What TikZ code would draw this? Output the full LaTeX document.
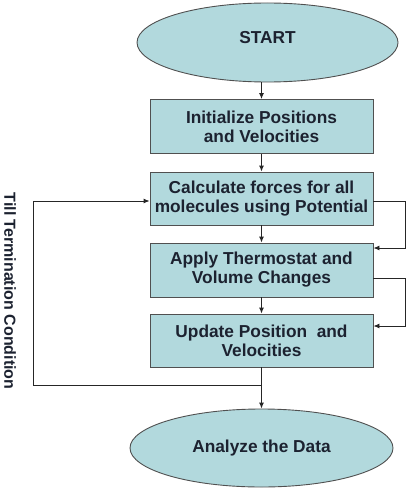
\documentclass[tikz,border=0pt]{standalone}
\usepackage{fontspec}
\setmainfont{Liberation Sans}
\usetikzlibrary{shapes.geometric,arrows.meta}
\definecolor{boxfill}{HTML}{B2D9DD}
\definecolor{boxline}{HTML}{505050}
\definecolor{txt}{HTML}{1C2230}
\tikzset{
  x=1pt,y=-1pt,
  boxfont/.style={font=\bfseries\fontsize{17.3}{19}\selectfont},
  stepbox/.style={draw=boxline,fill=boxfill,line width=0.9pt,minimum width=223pt,minimum height=54pt,inner sep=0pt,align=center,text=txt,boxfont},
  term/.style={ellipse,draw=boxline,fill=boxfill,line width=0.9pt,inner sep=0pt,text=txt,boxfont},
  conn/.style={draw=black!85,line width=0.9pt},
  arr/.style={conn,-{Latex[length=6pt,width=5pt]}}
}
\begin{document}
\begin{tikzpicture}
\useasboundingbox (0,0) rectangle (408,492);
\node[term,minimum width=261pt,minimum height=79pt] (start) at (267.5,42.5) {\raisebox{10pt}{START}};
\node[stepbox] (init) at (261.5,126.5) {Initialize Positions\\and Velocities};
\node[stepbox,minimum height=53pt] (calc) at (261.5,198.5) {Calculate forces for all\\molecules using Potential};
\node[stepbox] (apply) at (261.5,270) {Apply Thermostat and\\Volume Changes};
\node[stepbox,minimum height=53pt] (upd) at (261.5,340.5) {Update Position\ \ and\\Velocities};
\node[term,minimum width=263pt,minimum height=78pt] (ana) at (261.5,448) {Analyze the Data};
\node[rotate=-90,text=txt,font=\bfseries\fontsize{16}{18}\selectfont] (till) at (10,291) {Till Termination Condition};
\coordinate (loopb) at (262,385);
\coordinate (loopl) at (33,385);
\coordinate (loopt) at (33,201);
\coordinate (r1a) at (405,201);
\coordinate (r1b) at (405,248);
\coordinate (r2a) at (405,278);
\coordinate (r2b) at (405,326);
\draw[arr] (start.south -| init.north) -- (init.north);
\draw[arr] (init) -- (calc);
\draw[arr] (calc) -- (apply);
\draw[arr] (apply) -- (upd);
\draw[arr] (upd) -- (ana);
\draw[arr] (loopb) -- (loopl) -- (loopt) -- (loopt -| calc.west);
\draw[arr] (loopt -| calc.east) -- (r1a) -- (r1b) -- (r1b -| apply.east);
\draw[arr] (r2a -| apply.east) -- (r2a) -- (r2b) -- (r2b -| upd.east);
\end{tikzpicture}
\end{document}
